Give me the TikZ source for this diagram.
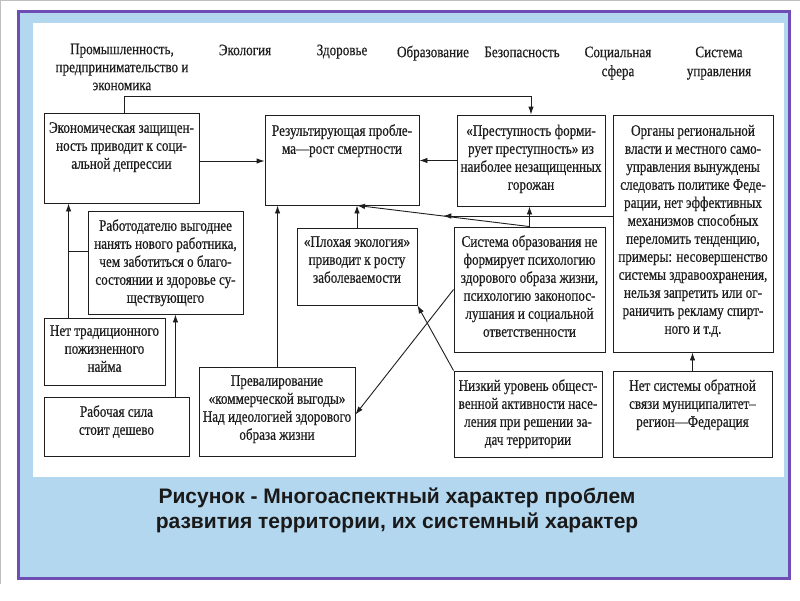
\documentclass[tikz,border=0pt]{standalone}
\usepackage{fontspec}
\setmainfont{Liberation Serif}[FakeStretch=0.82,FakeBold=0.5]
\newfontfamily\capfont{Liberation Sans}
\usetikzlibrary{arrows.meta,calc,fit}
\definecolor{frameblue}{RGB}{180,215,240}
\definecolor{framepurple}{RGB}{110,78,180}
\definecolor{ink}{RGB}{30,30,30}
\tikzset{
 box/.style={draw=ink, line width=0.9pt, inner sep=0pt, fill=white},
 txt/.style={inner sep=0pt, align=center, anchor=north, font=\fontsize{16}{18}\selectfont, text=ink},
 hdr/.style={inner sep=0pt, align=center, anchor=north, font=\fontsize{16}{19}\selectfont, text=ink},
 capt/.style={inner sep=0pt, align=center, anchor=north, font=\capfont\bfseries\fontsize{21}{25}\selectfont, text=black!90},
 arr/.style={draw=ink, line width=0.9pt, -{Latex[length=8pt,width=5.5pt]}},
 ln/.style={draw=ink, line width=0.9pt},
}
\begin{document}
\begin{tikzpicture}[x=1pt,y=-1pt]
\useasboundingbox (0,0) rectangle (800,600);
\fill[white] (0,0) rectangle (800,600);
\draw[black!25, line width=1pt] (0,0.5) -- (800,0.5);
\draw[black!25, line width=1pt] (0.5,0) -- (0.5,584);
\filldraw[fill=frameblue, draw=framepurple, line width=3pt] (18.5,11.5) rectangle (789.5,578.5);
\fill[white] (33,23) rectangle (784,477);

% headers
\node[txt] (h1) at (122,41.4) {\strut Промышленность,\\предпринимательство и\\экономика};
\node[txt] (h2) at (245,42.4) {\strut Экология};
\node[txt] (h3) at (342,42.4) {\strut Здоровье};
\node[hdr] (h4) at (433,43.7) {\strut Образование};
\node[hdr] (h5) at (522,43.7) {\strut Безопасность};
\node[hdr] (h6) at (618,43.7) {\strut Социальная\\сфера};
\node[hdr] (h7) at (719,43.7) {\strut Система\\управления};

% boxes
\node[box, fit={(44,113) (199,203)}] (A) {};
\node[box, fit={(265,115) (419,205)}] (B) {};
\node[box, fit={(457,115) (605,206)}] (C) {};
\node[box, fit={(613,115) (773,352)}] (D) {};
\node[box, fit={(88,211) (243,314)}] (E) {};
\node[box, fit={(297,228) (417,305)}] (F) {};
\node[box, fit={(454,227) (605,352)}] (G) {};
\node[box, fit={(44,318) (165,385)}] (H) {};
\node[box, fit={(44,397) (189,456)}] (I) {};
\node[box, fit={(199,367) (355,456)}] (J) {};
\node[box, fit={(454,371) (602,457)}] (K) {};
\node[box, fit={(613,371) (772,457)}] (L) {};

% box texts
\node[txt] (At) at ([yshift=-7.4pt]A.north) {\strut Экономическая защищен-\\ность приводит к соци-\\альной депрессии};
\node[txt] (Bt) at ([yshift=-8.4pt]B.north) {\strut Результирующая пробле-\\ма—рост смертности};
\node[txt] (Ct) at ([yshift=-8.4pt]C.north) {\strut «Преступность форми-\\рует преступность» из\\наиболее незащищенных\\горожан};
\node[txt] (Dt) at ([yshift=-8.4pt]D.north) {\strut Органы региональной\\власти и местного само-\\управления вынуждены\\следовать политике Феде-\\рации, нет эффективных\\механизмов способных\\переломить тенденцию,\\примеры: несовершенство\\системы здравоохранения,\\нельзя запретить или ог-\\раничить рекламу спирт-\\ного и т.д.};
\node[txt] (Et) at ([yshift=-7.4pt]E.north) {\strut Работодателю выгоднее\\нанять нового работника,\\чем заботиться о благо-\\состоянии и здоровье су-\\ществующего};
\node[txt] (Ft) at ([yshift=-6.4pt]F.north) {\strut «Плохая экология»\\приводит к росту\\заболеваемости};
\node[txt] (Gt) at ([yshift=-7.4pt]G.north) {\strut Система образования не\\формирует психологию\\здорового образа жизни,\\психологию законопос-\\лушания и социальной\\ответственности};
\node[txt] (Ht) at ([yshift=-5.4pt]H.north) {\strut Нет традиционного\\пожизненного\\найма};
\node[txt] (It) at ([yshift=-7.4pt]I.north) {\strut Рабочая сила\\стоит дешево};
\node[txt] (Jt) at ([yshift=-6.4pt]J.north) {\strut Превалирование\\«коммерческой выгоды»\\Над идеологией здорового\\образа жизни};
\node[txt] (Kt) at ([yshift=-7.4pt]K.north) {\strut Низкий уровень общест-\\венной активности насе-\\ления при решении за-\\дач территории};
\node[txt] (Lt) at ([yshift=-7.4pt]L.north) {\strut Нет системы обратной\\связи муниципалитет–\\регион—Федерация};

% connectors
\draw[arr] ([xshift=2.5pt]A.north) -- ++(0,-16) -| (C.north);
\draw[arr] ([yshift=-3pt]A.east) -- ([yshift=-3pt]A.east -| B.west);
\draw[arr] (C.west) -- (C.west -| B.east);
\coordinate (bf) at (F.north |- B.south);
\draw[arr] (F.north) -- (bf);
\draw[arr] (G.north) -- (bf);
\draw[arr] (G.north) -- (G.north |- C.south);
\coordinate (gm) at ($(G.north)!0.5!(bf)$);
\draw[arr] (gm -| D.west) -- (gm);
\draw[arr] (G.west) -- ([yshift=-3pt]J.east);
\draw[arr] (K.north west) -- (F.south east);
\coordinate (jx) at ([xshift=79pt]J.north west);
\draw[arr] (jx) -- (jx |- B.south);
\coordinate (hx) at ([xshift=25pt]H.north west);
\draw[arr] (hx) -- (hx |- A.south);
\draw[ln] ([yshift=11.5pt]E.west) -- ([yshift=11.5pt]E.west -| hx);
\coordinate (ix) at ([xshift=-14pt]I.north east);
\draw[arr] (ix) -- (ix |- E.south);
\draw[arr] (L.north) -- (L.north |- D.south);

% caption
\node[capt] (cap) at (397,486) {\strut Рисунок - Многоаспектный характер проблем\\развития территории, их системный характер};
\end{tikzpicture}
\end{document}
